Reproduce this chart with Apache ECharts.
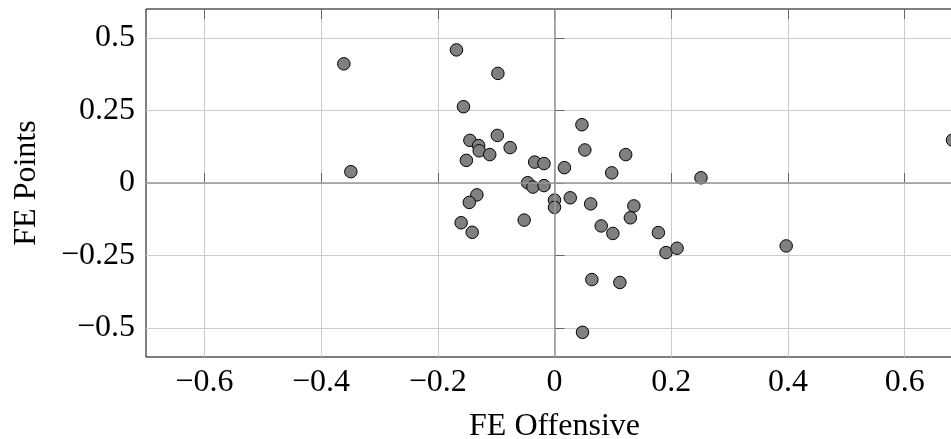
<!DOCTYPE html>
<html>
<head>
<meta charset="utf-8">
<script src="https://cdn.jsdelivr.net/npm/echarts@6/dist/echarts.min.js"></script>
<style>
html,body{margin:0;padding:0;background:#fff;}
#c{width:951px;height:439px;}
</style>
</head>
<body>
<div id="c"></div>
<script>
// FE Offensive (x) and FE Points (y)
const feOffensive = [
  -0.361, -0.168, -0.097, -0.156, -0.349, -0.145, -0.098, -0.130, -0.129, -0.111,
  -0.076, -0.151, -0.034, -0.018, 0.017, -0.046, -0.037, -0.018, -0.133, -0.146,
  -0.160, -0.141, -0.052, 0.000, 0.000, 0.027, 0.062, 0.136, 0.130, 0.080,
  0.100, 0.178, 0.191, 0.210, 0.397, 0.064, 0.112, 0.048, 0.047, 0.052,
  0.122, 0.098, 0.251, 0.682
];
const fePoints = [
  0.411, 0.459, 0.378, 0.263, 0.039, 0.147, 0.164, 0.129, 0.111, 0.098,
  0.122, 0.078, 0.072, 0.067, 0.053, 0.001, -0.014, -0.009, -0.041, -0.067,
  -0.137, -0.170, -0.128, -0.059, -0.084, -0.051, -0.072, -0.079, -0.120, -0.148,
  -0.174, -0.171, -0.240, -0.225, -0.217, -0.333, -0.343, -0.515, 0.201, 0.114,
  0.098, 0.035, 0.018, 0.148
];
const xTicks = [-0.6, -0.4, -0.2, 0, 0.2, 0.4, 0.6];
const yTicks = [-0.5, -0.25, 0, 0.25, 0.5];
const xLabels = ['\u22120.6', '\u22120.4', '\u22120.2', '0', '0.2', '0.4', '0.6'];
const yLabels = ['\u22120.5', '\u22120.25', '0', '0.25', '0.5'];
const xTitle = 'FE Offensive';
const yTitle = 'FE Points';

const FONT = 'Liberation Serif';
const points = feOffensive.map((x, i) => [x, fePoints[i]]);
const fmt = (ticks, labels) => v => {
  const i = ticks.findIndex(t => Math.abs(t - v) < 1e-9);
  return i >= 0 ? labels[i] : '';
};

const chart = echarts.init(document.getElementById('c'), null, {renderer: 'canvas'});
chart.setOption({
  animation: false,
  backgroundColor: '#fff',
  grid: {left: 146, top: 9, width: 817, height: 348, show: true,
         containLabel: false, outerBoundsMode: 'none',
         borderColor: '#000', borderWidth: 1, backgroundColor: 'transparent'},
  xAxis: [{
    type: 'value', min: -0.7, max: 0.7, position: 'bottom',
    name: xTitle, nameLocation: 'middle', nameGap: 54,
    nameTextStyle: {fontFamily: FONT, fontSize: 32, color: '#000'},
    axisLine: {show: false},
    axisTick: {show: true, inside: true, length: 10, customValues: xTicks,
               lineStyle: {color: '#666', width: 1}},
    axisLabel: {customValues: xTicks, formatter: fmt(xTicks, xLabels), margin: 10,
                fontFamily: FONT, fontSize: 32, color: '#000'},
    splitLine: {show: true, lineStyle: {color: '#cccccc', width: 1}}
  }, {
    type: 'value', min: -0.7, max: 0.7, position: 'top',
    axisLine: {show: false},
    axisTick: {show: true, inside: true, length: 10, customValues: xTicks,
               lineStyle: {color: '#666', width: 1}},
    axisLabel: {show: false},
    splitLine: {show: false}
  }],
  yAxis: [{
    type: 'value', min: -0.6, max: 0.6,
    name: yTitle, nameLocation: 'middle', nameGap: 103, nameRotate: 90,
    nameTextStyle: {fontFamily: FONT, fontSize: 32, color: '#000'},
    axisLine: {show: false},
    axisTick: {show: true, inside: true, length: 10, customValues: yTicks,
               lineStyle: {color: '#666', width: 1}},
    axisLabel: {customValues: yTicks, formatter: fmt(yTicks, yLabels), margin: 11,
                fontFamily: FONT, fontSize: 32, color: '#000'},
    splitLine: {show: true, lineStyle: {color: '#cccccc', width: 1}}
  }],
  series: [{
    type: 'scatter', data: [], z: 1, silent: true,
    markLine: {
      silent: true, symbol: 'none', label: {show: false}, animation: false,
      lineStyle: {color: '#999', width: 1.6, type: 'solid'},
      emphasis: {disabled: true},
      data: [{xAxis: 0}, {yAxis: 0}]
    }
  }, {
    type: 'scatter', data: points, z: 3,
    symbol: 'circle', symbolSize: 12.5,
    itemStyle: {color: '#808080', borderColor: '#000', borderWidth: 1, opacity: 1}
  }]
});
</script>
</body>
</html>
